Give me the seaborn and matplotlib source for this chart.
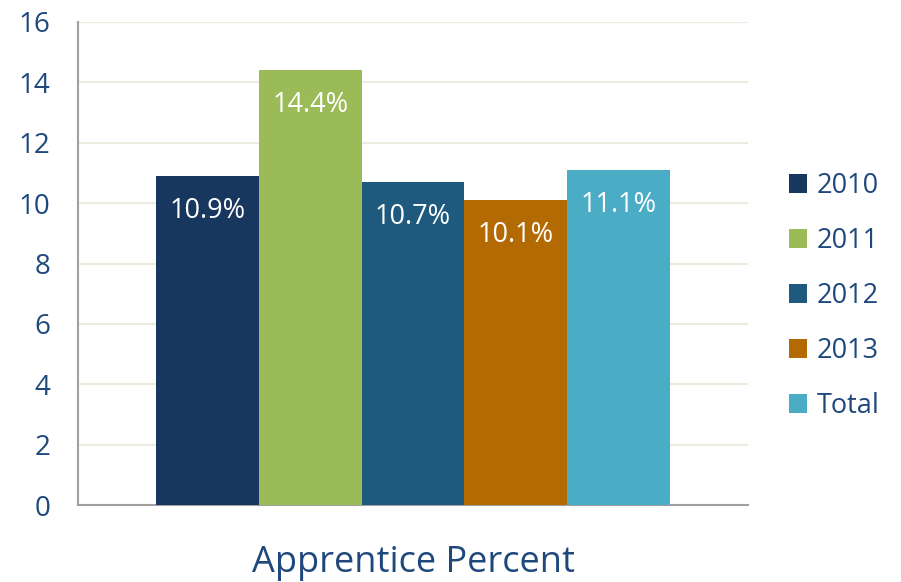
"""
Apprentice percent by year - bar chart.
"""
import matplotlib
matplotlib.use('Agg')
import matplotlib.pyplot as plt
import seaborn as sns
import pandas as pd

# data
years = ['2010', '2011', '2012', '2013', 'Total']
values = [10.9, 14.4, 10.7, 10.1, 11.1]
category = 'Apprentice Percent'
colors = ['#18375E', '#9BBB59', '#1E5A7D', '#B36A03', '#4BACC6']
text_color = '#1F497D'

df = pd.DataFrame({'Category': [category] * len(years), 'Year': years, 'Value': values})

sns.set_theme(style='white')
plt.rcParams['font.family'] = ['Open Sans', 'DejaVu Sans']

fig = plt.figure(figsize=(9.01, 5.82), dpi=100)
ax = fig.add_axes([78 / 901, 77 / 582, 670 / 901, 483 / 582])

sns.barplot(data=df, x='Category', y='Value', hue='Year', palette=colors,
            width=0.766, gap=0, saturation=1, linewidth=0, ax=ax, legend=True, zorder=3)

for container in ax.containers:
    ax.bar_label(container, labels=[f'{v:.1f}%' for v in container.datavalues],
                 padding=-35, color='white', fontsize=19.5)

ax.set_xlim(-0.5, 0.5)
ax.set_ylim(0, 16)
ax.set_yticks(range(0, 17, 2))
ax.yaxis.grid(True, color='#EDEBE0', linewidth=1.5, zorder=0)
ax.set_axisbelow(True)
ax.tick_params(axis='y', labelsize=20, labelcolor=text_color, length=0, pad=20)
ax.tick_params(axis='x', length=0, labelsize=26, labelcolor=text_color, pad=29)
ax.set_xlabel('')
ax.set_ylabel('')

for side in ['top', 'right']:
    ax.spines[side].set_visible(False)
for side in ['left', 'bottom']:
    ax.spines[side].set_color('#A0A0A0')
    ax.spines[side].set_linewidth(1.5)

leg = ax.legend(loc='center left', bbox_to_anchor=(789 / 901, 1 - 296 / 582),
                bbox_transform=fig.transFigure, frameon=False,
                fontsize=19.5, handlelength=0.68, handleheight=0.68,
                labelspacing=1.0, handletextpad=0.35, borderaxespad=0, borderpad=0)
for t in leg.get_texts():
    t.set_color(text_color)

plt.savefig('out.png', dpi=100)
plt.close()
